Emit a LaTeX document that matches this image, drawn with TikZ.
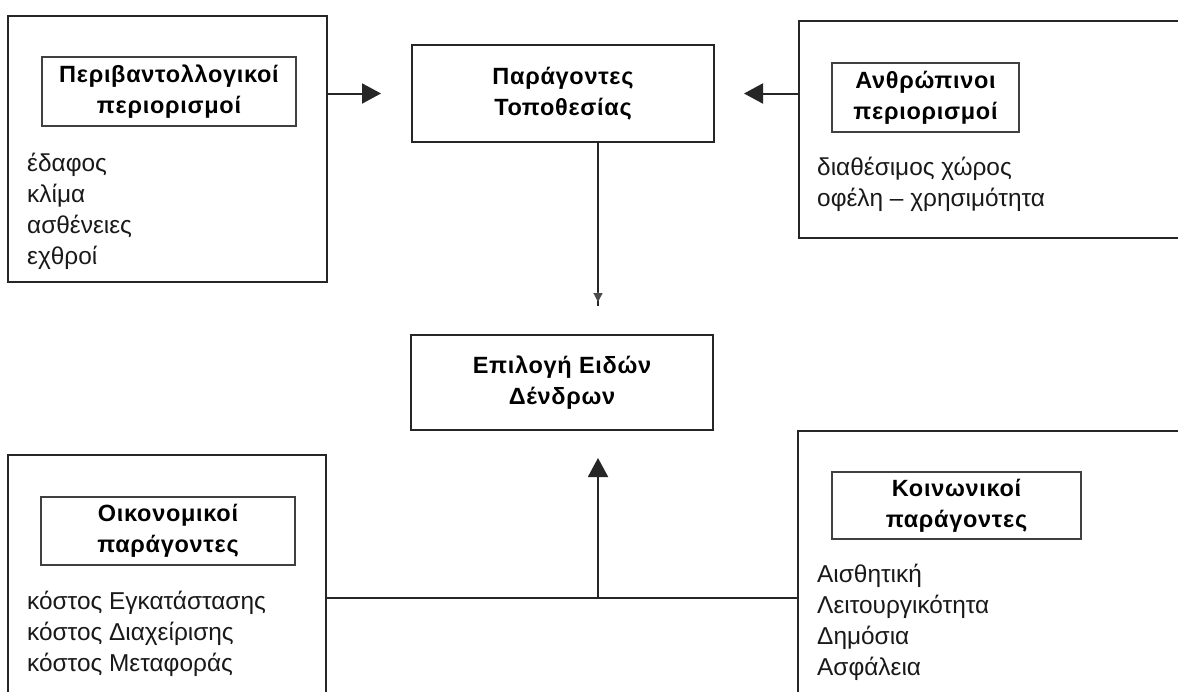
\documentclass[tikz,border=0pt]{standalone}
\usepackage{fontspec}
\setmainfont{Liberation Sans}
\newfontfamily\hdrfont[LetterSpace=3]{Liberation Sans}
\usetikzlibrary{arrows.meta,calc}
\tikzset{
  bigbox/.style={draw=black!85, line width=2pt, inner sep=0pt},
  hdrfontstyle/.style={font=\hdrfont\fontsize{23.5}{31}\selectfont\bfseries},
  hdrbox/.style={draw=black!75, line width=1.4pt, inner sep=0pt, align=center, hdrfontstyle},
  listtxt/.style={inner sep=0pt, align=left, anchor=north west,
    font=\fontsize{24.4}{31}\selectfont, text=black!90},
  conn/.style={draw=black!85, line width=2pt},
  arr/.style={conn, -{Triangle[length=19pt,width=20pt]}},
  smallarr/.style={conn, -{Triangle[length=9pt,width=9pt]}},
}
\begin{document}
\begin{tikzpicture}[x=1pt,y=-1pt]
\useasboundingbox (0,0) rectangle (1178,691);
\clip (0,0) rectangle (1178,691);
\fill[white!97!black!3] (0,0) rectangle (1178,691);

% main boxes
\node[bigbox, minimum width=319pt, minimum height=266pt] (env) at (167.5,149) {};
\node[bigbox, minimum width=401pt, minimum height=217pt] (hum) at (999.5,129.5) {};
\node[bigbox, minimum width=318pt, minimum height=265pt] (econ) at (167,587.5) {};
\node[bigbox, minimum width=402pt, minimum height=289pt] (soc) at (999,575.5) {};
\node[bigbox, minimum width=302pt, minimum height=97pt, align=center, hdrfontstyle] (tpf) at (563,93.5) {Παράγοντες\\Τοποθεσίας};
\node[bigbox, minimum width=302pt, minimum height=95pt, align=center, hdrfontstyle] (choice) at (562,382.5) {Επιλογή Ειδών\\Δένδρων};

% header boxes
\node[hdrbox, minimum width=254pt, minimum height=69pt] (envh) at (169,91.5) {Περιβαντολλογικοί\\περιορισμοί};
\node[hdrbox, minimum width=187pt, minimum height=69pt] (humh) at (925.5,97.5) {Ανθρώπινοι\\περιορισμοί};
\node[hdrbox, minimum width=254pt, minimum height=68pt] (econh) at (168,531) {Οικονομικοί\\παράγοντες};
\node[hdrbox, minimum width=249pt, minimum height=67pt] (soch) at (956.5,505.5) {Κοινωνικοί\\παράγοντες};

% lists
\node[listtxt] (envl) at (27,153) {έδαφος\\κλίμα\\ασθένειες\\εχθροί};
\node[listtxt] (huml) at (817,157) {διαθέσιμος χώρος\\οφέλη – χρησιμότητα};
\node[listtxt] (econl) at (27,591) {κόστος Εγκατάστασης\\κόστος Διαχείρισης\\κόστος Μεταφοράς};
\node[listtxt] (socl) at (817,564) {Αισθητική\\Λειτουργικότητα\\Δημόσια\\Ασφάλεια};

% connectors
\coordinate (j) at (598,598);
\draw[arr, shorten >=30pt] (env.east |- tpf.west) -- (tpf.west);
\draw[arr, shorten >=29pt] (hum.west |- tpf.east) -- (tpf.east);
\draw[conn, line width=1.6pt] (tpf.south -| j) -- ($(choice.north -| j)+(0,-28)$);
\draw[smallarr, draw=black!70, fill=black!70, line width=1.2pt] ($(choice.north -| j)+(0,-42)$) -- ($(choice.north -| j)+(0,-32)$);
\draw[conn] (econ.east |- j) -- (soc.west |- j);
\draw[arr, shorten >=27pt] (j) -- (choice.south -| j);
\end{tikzpicture}
\end{document}
